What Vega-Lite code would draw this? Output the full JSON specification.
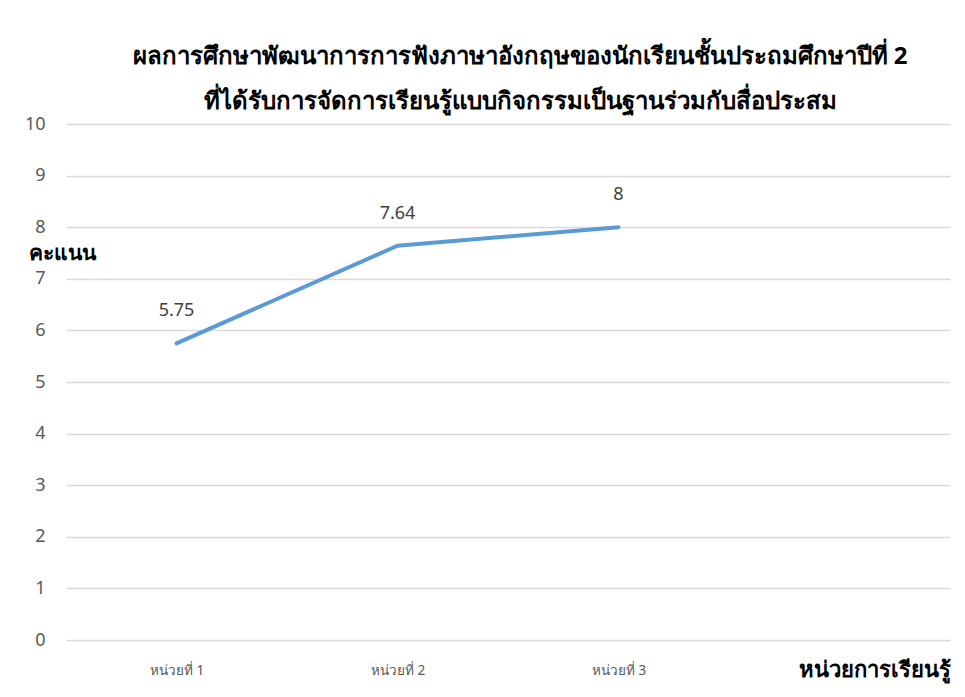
{
  "$schema": "https://vega.github.io/schema/vega-lite/v6.json",
  "width": 884,
  "height": 516,
  "autosize": "none",
  "padding": {"left": 66, "top": 124, "right": 15, "bottom": 57},
  "background": "white",
  "title": {
    "text": ["ผลการศึกษาพัฒนาการการฟังภาษาอังกฤษของนักเรียนชั้นประถมศึกษาปีที่ 2", "ที่ได้รับการจัดการเรียนรู้แบบกิจกรรมเป็นฐานร่วมกับสื่อประสม"],
    "anchor": "middle",
    "dx": 12,
    "fontSize": 24,
    "fontWeight": "bold",
    "font": "Noto Sans",
    "color": "#000000",
    "lineHeight": 45,
    "offset": 1
  },
  "data": {
    "values": [
      {"unit": "หน่วยที่ 1", "score": 5.75},
      {"unit": "หน่วยที่ 2", "score": 7.64},
      {"unit": "หน่วยที่ 3", "score": 8}
    ]
  },
  "config": {
    "view": {"stroke": null},
    "font": "Noto Sans"
  },
  "encoding": {
    "x": {
      "field": "unit",
      "type": "ordinal",
      "scale": {"type": "point", "domain": ["หน่วยที่ 1", "หน่วยที่ 2", "หน่วยที่ 3", "-"], "padding": 0.5},
      "axis": {
        "title": "หน่วยการเรียนรู้",
        "titleFontSize": 22,
        "titleFontWeight": "bold",
        "titleColor": "#000000",
        "titleAnchor": "end",
        "titleAlign": "right",
        "titleBaseline": "middle",
        "titleX": 884,
        "titleY": 29,
        "labelAngle": 0,
        "labelExpr": "datum.value == '-' ? '' : datum.value",
        "labelFontSize": 13.5,
        "labelColor": "#595959",
        "labelPadding": 30,
        "labelBaseline": "middle",
        "domain": false,
        "ticks": false,
        "grid": false
      }
    },
    "y": {
      "field": "score",
      "type": "quantitative",
      "scale": {"domain": [0, 10]},
      "axis": {
        "title": "คะแนน",
        "titleAngle": 0,
        "titleFontSize": 21,
        "titleFontWeight": "bold",
        "titleColor": "#000000",
        "titleAlign": "left",
        "titleBaseline": "middle",
        "titleX": -38,
        "titleY": 129,
        "values": [0,1,2,3,4,5,6,7,8,9,10],
        "labelOverlap": false,
        "labelFontSize": 18,
        "labelColor": "#595959",
        "labelPadding": 21,
        "domain": false,
        "ticks": false,
        "grid": true,
        "gridColor": "#d9d9d9",
        "gridWidth": 1.3
      }
    }
  },
  "layer": [
    {
      "mark": {"type": "line", "color": "#5B9BD5", "strokeWidth": 4, "strokeCap": "round"}
    },
    {
      "mark": {"type": "text", "dy": -32, "fontSize": 18, "color": "#404040", "baseline": "middle"},
      "encoding": {"text": {"field": "score", "type": "quantitative"}}
    }
  ]
}
